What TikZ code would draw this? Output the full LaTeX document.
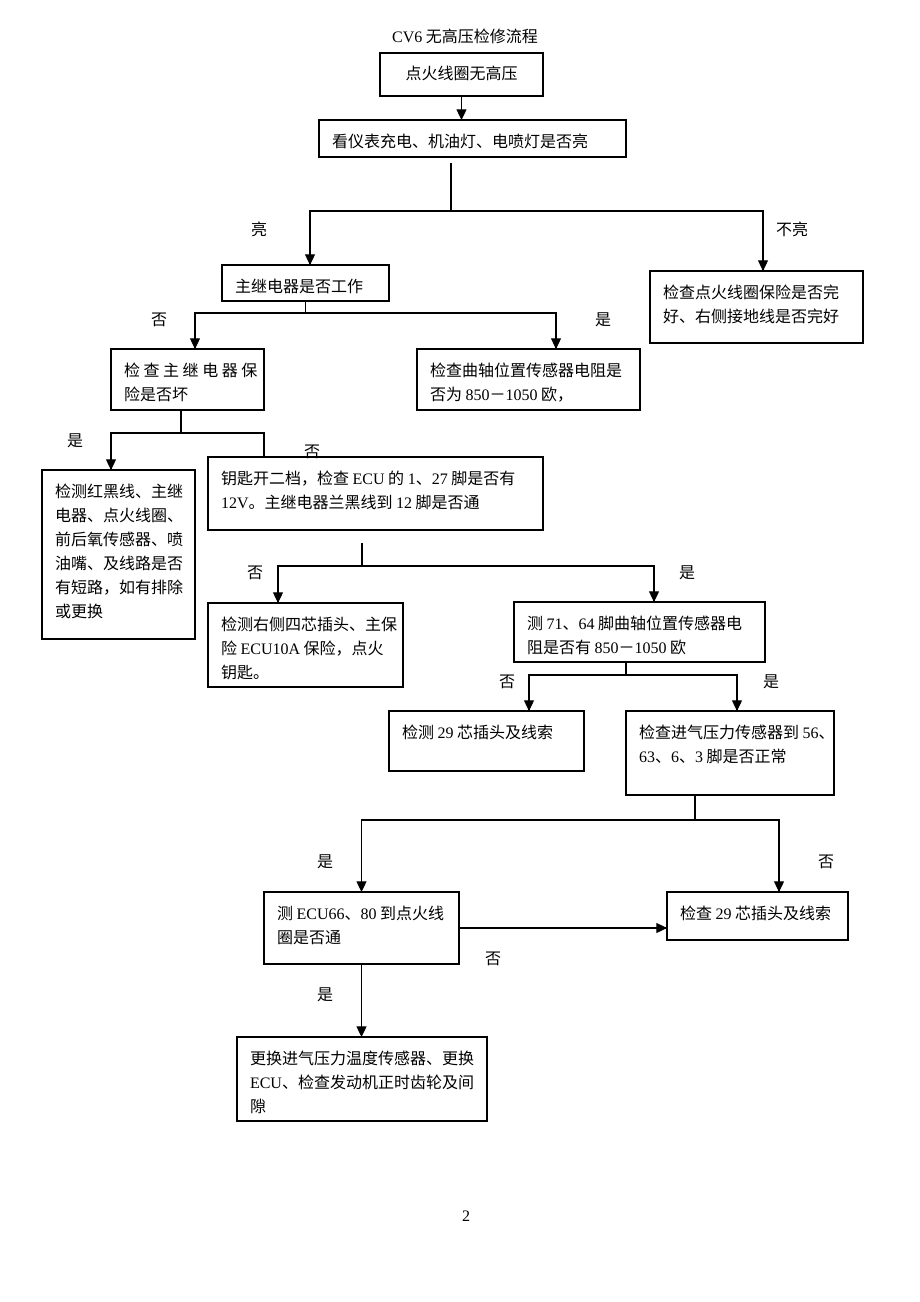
\documentclass[tikz,border=0pt]{standalone}
\usepackage{fontspec}
\setmainfont{Noto Sans CJK SC}
\newfontfamily\lat{Liberation Serif}
\usetikzlibrary{arrows.meta}
\usetikzlibrary{decorations.markings}
\newdimen\px
\px=0.75pt
\newcommand\boxtxt[3]{\parbox[t][#2\px][t]{#1\px}{\leftskip=13\px\rightskip=-3em plus 1fil\parindent=0pt\rule{0pt}{27\px}#3}}
\tikzset{arr/.style = {decoration={markings,
                                   mark=at position 1 with {\arrow{Triangle[width=7.5pt,length=8pt]}}},
                       postaction={decorate}}}
\tikzset{box/.style = {draw, anchor=north west, inner sep=0pt, outer sep=0pt}}
\tikzset{lbl/.style = {inner sep=0pt}}

\begin{document}
\begin{tikzpicture}[x=0.75pt, y=-0.75pt, line width=0.9pt, font=\fontsize{12}{18}\selectfont]
    \useasboundingbox (0,0) rectangle (920,1302);
    \node [lbl] (title) at (465,36) {{\lat CV6} 无高压检修流程};

    \node [box] (coil) at (380,53) {\boxtxt{163}{43}{\centering 点火线圈无高压}};
    \node [box] (lamps) at (319,120) {\boxtxt{307}{37}{看仪表充电、机油灯、电喷灯是否亮}};
    \node [box] (relay) at (222,265) {\boxtxt{167}{36}{主继电器是否工作}};
    \node [box] (fuse) at (650,271) {\boxtxt{213}{72}{检查点火线圈保险是否完\\好、右侧接地线是否完好}};
    \node [box] (relayfuse) at (111,349) {\boxtxt{153}{61}{检 查 主 继 电 器 保\\险是否坏}};
    \node [box] (crank) at (417,349) {\boxtxt{223}{61}{检查曲轴位置传感器电阻是\\否为 {\lat 850}－{\lat 1050} 欧，}};
    \node [box] (short) at (42,470) {\boxtxt{153}{169}{检测红黑线、主继\\电器、点火线圈、\\前后氧传感器、喷\\油嘴、及线路是否\\有短路，如有排除\\或更换}};
    \node [box] (key) at (208,457) {\boxtxt{335}{73}{钥匙开二档，检查 {\lat ECU} 的 {\lat 1}、{\lat 27} 脚是否有\\{\lat 12V}。主继电器兰黑线到 {\lat 12} 脚是否通}};
    \node [box] (plugfour) at (208,603) {\boxtxt{195}{84}{检测右侧四芯插头、主保\\险 {\lat ECU10A} 保险，点火\\钥匙。}};
    \node [box] (pins) at (514,602) {\boxtxt{251}{60}{测 {\lat 71}、{\lat 64} 脚曲轴位置传感器电\\阻是否有 {\lat 850}－{\lat 1050} 欧}};
    \node [box] (plugA) at (389,711) {\boxtxt{195}{60}{检测 {\lat 29} 芯插头及线索}};
    \node [box] (map) at (626,711) {\boxtxt{208}{84}{检查进气压力传感器到 {\lat 56}、\\{\lat 63}、{\lat 6}、{\lat 3} 脚是否正常}};
    \node [box] (ecu) at (264,892) {\boxtxt{195}{72}{测 {\lat ECU66}、{\lat 80} 到点火线\\圈是否通}};
    \node [box] (plugB) at (667,892) {\boxtxt{181}{48}{检查 {\lat 29} 芯插头及线索}};
    \node [box] (swap) at (237,1037) {\boxtxt{250}{84}{更换进气压力温度传感器、更换\\{\lat ECU}、检查发动机正时齿轮及间\\隙}};

    \draw [arr] (coil.south) -- (coil.south |- lamps.north);

    \coordinate (lampsstem) at (451,163);
    \coordinate (lampsfork) at (451,211);
    \draw (lampsstem) -- (lampsfork);
    \draw [arr] (lampsfork) -| (310,0 |- relay.north);
    \draw [arr] (lampsfork) -| (763,0 |- fuse.north);
    \node [lbl] (lit) at (259,229) {亮};
    \node [lbl] (unlit) at (792,229) {不亮};

    \coordinate (relayfork) at (relay.south |- 0,313);
    \draw (relay.south) -- (relayfork);
    \draw [arr] (relayfork) -| (195,0 |- relayfuse.north);
    \draw [arr] (relayfork) -| (556,0 |- crank.north);
    \node [lbl] (relayno) at (159,320) {否};
    \node [lbl] (relayyes) at (603,320) {是};

    \coordinate (rfstem) at (181,0 |- relayfuse.south);
    \coordinate (rffork) at (181,433);
    \draw (rfstem) -- (rffork);
    \draw [arr] (rffork) -| (111,0 |- short.north);
    \draw (rffork) -| (264,0 |- key.north);
    \node [lbl] (rfyes) at (75,441) {是};
    \node [lbl] (rfno) at (312,452) {否};

    \coordinate (keystem) at (362,543);
    \coordinate (keyfork) at (362,566);
    \draw (keystem) -- (keyfork);
    \draw [arr] (keyfork) -| (278,0 |- plugfour.north);
    \draw [arr] (keyfork) -| (654,0 |- pins.north);
    \node [lbl] (keyno) at (255,573) {否};
    \node [lbl] (keyyes) at (687,573) {是};

    \coordinate (pinsstem) at (626,0 |- pins.south);
    \coordinate (pinsfork) at (626,675);
    \draw (pinsstem) -- (pinsfork);
    \draw [arr] (pinsfork) -| (529,0 |- plugA.north);
    \draw [arr] (pinsfork) -| (737,0 |- map.north);
    \node [lbl] (pinsno) at (507,682) {否};
    \node [lbl] (pinsyes) at (771,682) {是};

    \coordinate (mapstem) at (695,0 |- map.south);
    \coordinate (mapfork) at (695,820);
    \draw (mapstem) -- (mapfork);
    \draw [arr] (mapfork) -| (ecu.north);
    \draw [arr] (mapfork) -| (779,0 |- plugB.north);
    \node [lbl] (mapyes) at (325,862) {是};
    \node [lbl] (mapno) at (826,862) {否};

    \draw [arr] (ecu.east) -- (ecu.east -| plugB.west);
    \draw [arr] (ecu.south) -- (ecu.south |- swap.north);
    \node [lbl] (ecuno) at (493,959) {否};
    \node [lbl] (ecuyes) at (325,995) {是};

    \node [lbl] (page) at (466,1216) {\lat 2};
  \end{tikzpicture}
\end{document}
